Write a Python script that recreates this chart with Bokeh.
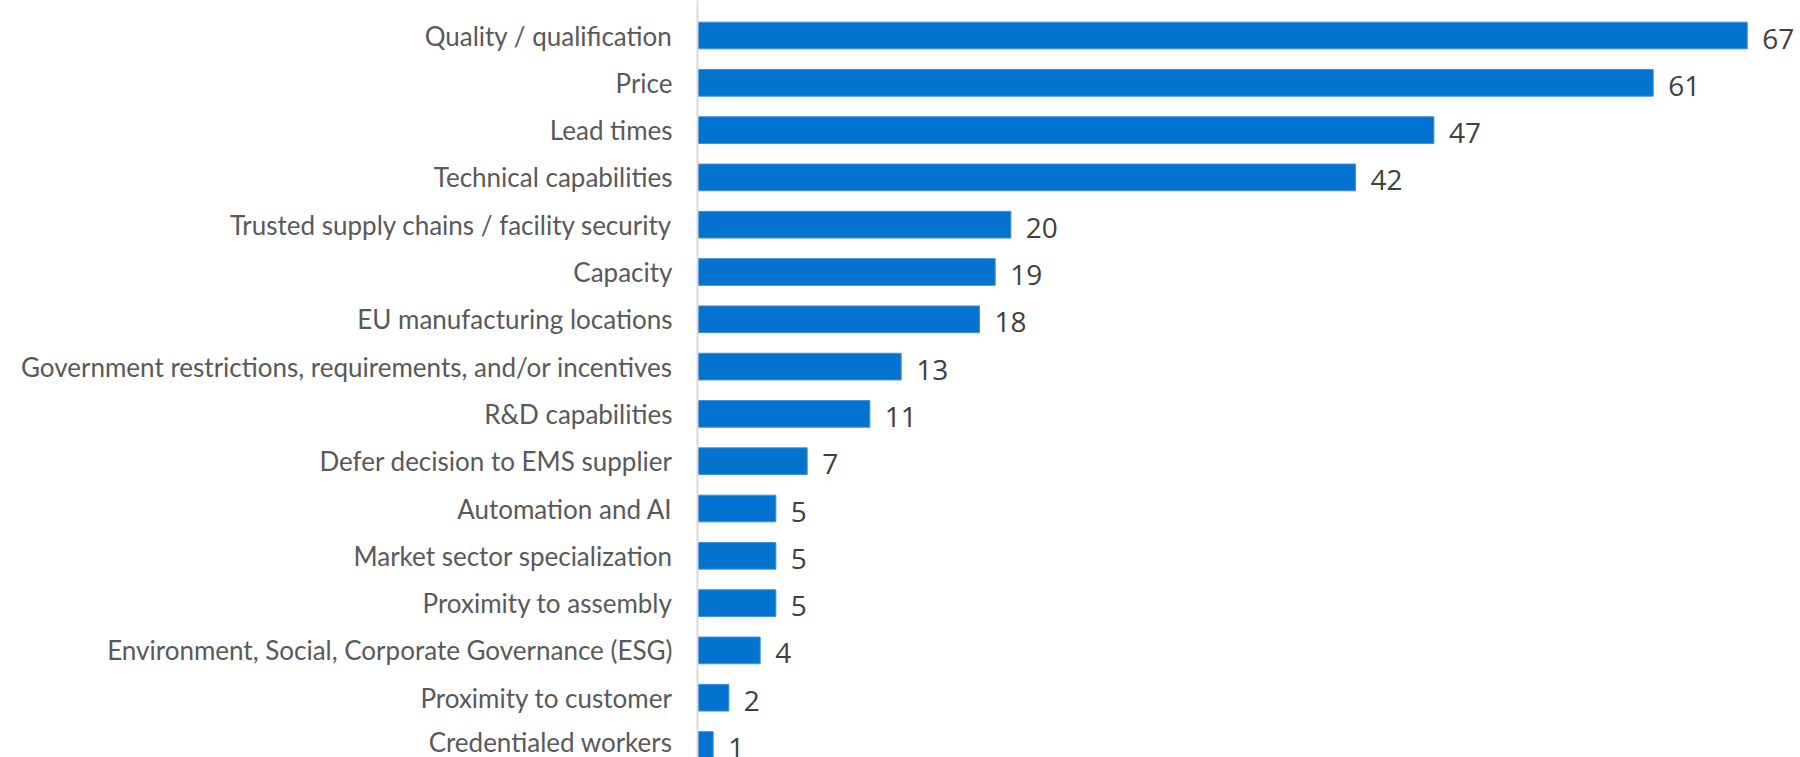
from bokeh.plotting import figure
from bokeh.models import Range1d, FixedTicker, ColumnDataSource
from bokeh.core.properties import value
from bokeh.embed import file_html
from bokeh.resources import INLINE

categories = [
    "Quality / qualification",
    "Price",
    "Lead times",
    "Technical capabilities",
    "Trusted supply chains / facility security",
    "Capacity",
    "EU manufacturing locations",
    "Government restrictions, requirements, and/or incentives",
    "R&D capabilities",
    "Defer decision to EMS supplier",
    "Automation and AI",
    "Market sector specialization",
    "Proximity to assembly",
    "Environment, Social, Corporate Governance (ESG)",
    "Proximity to customer",
    "Credentialed workers",
]
values = [67, 61, 47, 42, 20, 19, 18, 13, 11, 7, 5, 5, 5, 4, 2, 1]

pos = list(range(len(categories)))
src = ColumnDataSource(dict(y=pos, v=values, lbl=[str(v) for v in values]))

p = figure(width=1800, height=757, output_backend="svg", toolbar_location=None,
           x_range=Range1d(0, 70.4), y_range=Range1d(15.264, -0.740),
           min_border_left=697, min_border_right=0, min_border_top=0, min_border_bottom=0)
p.outline_line_color = None
p.xgrid.visible = False
p.ygrid.visible = False
p.xaxis.visible = False

p.hbar(y="y", right="v", left=0, height=0.564, source=src,
       fill_color="#0373CF", line_color="#3d8fdc", line_width=1)
p.text(x="v", y="y", text="lbl", source=src, x_offset=15, y_offset=3,
       text_baseline="middle", text_align="left",
       text_font=value("Open Sans"), text_font_size="28px", text_color="#404040")

ya = p.yaxis[0]
ya.ticker = FixedTicker(ticks=pos)
ya.major_label_overrides = {i: c for i, c in enumerate(categories)}
ya.major_tick_line_color = None
ya.minor_tick_line_color = None
ya.major_tick_out = 0
ya.major_tick_in = 0
ya.major_label_standoff = 25
ya.axis_line_color = "#d9d9d9"
ya.axis_line_width = 2
ya.major_label_text_font = "Lato"
ya.major_label_text_font_size = "26px"
ya.major_label_text_color = "#595959"

open("out.html", "w").write(file_html(p, INLINE))
